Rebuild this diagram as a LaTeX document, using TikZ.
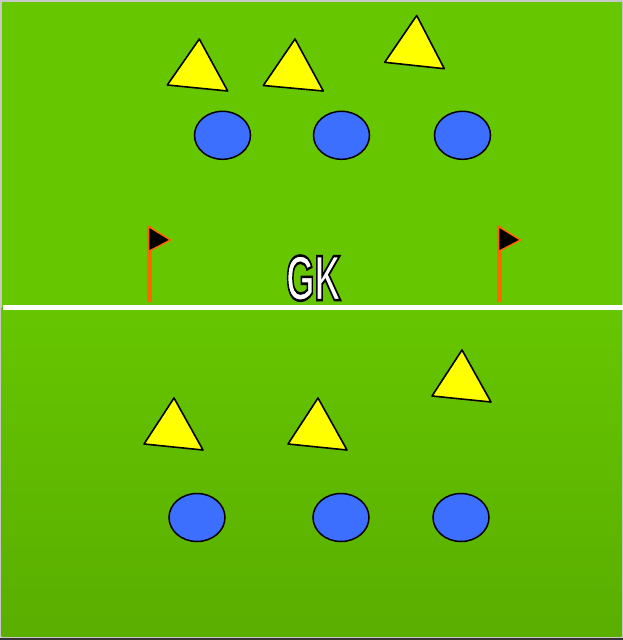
\documentclass[tikz,border=0pt]{standalone}
\usepackage{fontspec}
\newfontfamily\gkfont[FakeBold=4]{Liberation Sans Bold}
\usetikzlibrary{shapes.geometric}
\definecolor{pitch}{RGB}{102,198,0}
\definecolor{pitchdark}{RGB}{90,174,0}
\definecolor{cone}{RGB}{255,255,0}
\definecolor{player}{RGB}{61,111,255}
\definecolor{flagorange}{RGB}{255,102,0}
\definecolor{edgegrey}{RGB}{200,200,200}
\tikzset{
  cone/.style={fill=cone,draw=black,line width=1.6pt,line join=round},
  player/.style={ellipse,fill=player,draw=black,line width=1.5pt,minimum width=56pt,minimum height=48pt,inner sep=0pt},
  pole/.style={fill=flagorange,draw=none},
  flagcloth/.style={fill=black,draw=flagorange,line width=1.5pt,line join=miter},
  gklabel/.style={inner sep=0pt,anchor=south},
}
\newcommand{\gktext}{\scalebox{0.57}[1]{\special{pdf:bcolor [1 1 1] [0 0 0]}\fontsize{64}{64}\gkfont GK\special{pdf:ecolor}}}
\begin{document}
\begin{tikzpicture}[x=1pt,y=-1pt]
\useasboundingbox (0,0) rectangle (623,640);
% frame and background
\fill[white] (0,0) rectangle (623,640);
\fill[edgegrey] (0,0) rectangle (623,638);
\fill[pitch] (1.5,1.5) rectangle (621.5,307);
\shade[top color=pitch,bottom color=pitchdark] (1.5,307) rectangle (621.5,636);
\fill[black!80] (0,638) rectangle (623,640);
% halfway line
\fill[white] (3,305) rectangle (623,310);
% flags
\fill[pole] (146.5,226) rectangle (151.5,302);
\fill[pole] (496.5,226) rectangle (501.5,302);
\draw[flagcloth] (148.5,226.5) -- (170.5,240) -- (148.5,251.5) -- cycle;
\draw[flagcloth] (498.5,226.5) -- (520.5,240) -- (498.5,251.5) -- cycle;
% GK label
\node[gklabel] (gk) at (313.5,301) {\gktext};
% top cones
\draw[cone] (199.3,39) -- (227.7,91) -- (167.3,85) -- cycle;
\draw[cone] (295,39) -- (323.3,91) -- (263.3,85.5) -- cycle;
\draw[cone] (416.7,15.5) -- (444.3,68.7) -- (384.7,62.3) -- cycle;
% bottom cones
\draw[cone] (174,398) -- (203,450) -- (144,444) -- cycle;
\draw[cone] (318,398) -- (347,450) -- (288,444) -- cycle;
\draw[cone] (462,350) -- (491,402) -- (432,396) -- cycle;
% players
\node[player] (p1) at (222.5,135.3) {};
\node[player] (p2) at (341.5,135.3) {};
\node[player] (p3) at (462.5,135.3) {};
\node[player] (p4) at (197,517.5) {};
\node[player] (p5) at (341,517.5) {};
\node[player] (p6) at (461,517.5) {};
\end{tikzpicture}
\end{document}
